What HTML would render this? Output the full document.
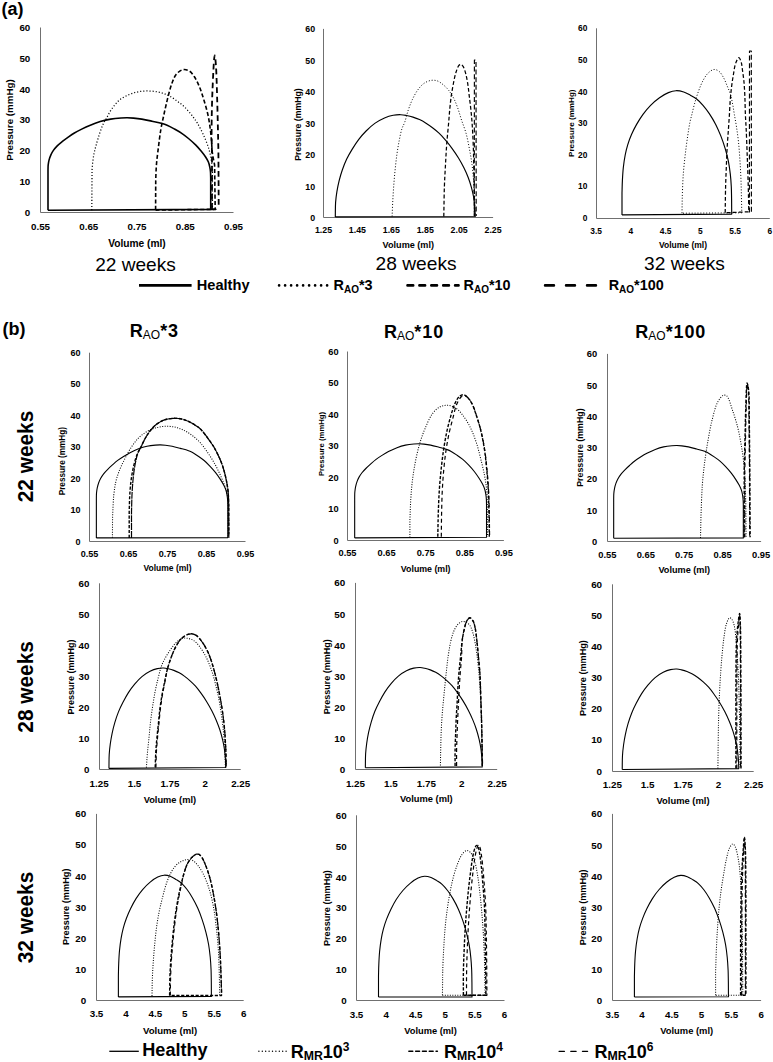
<!DOCTYPE html>
<html><head><meta charset="utf-8"><style>
html,body{margin:0;padding:0;background:#fff;}
svg{display:block;}
</style></head><body>
<svg width="773" height="1062" viewBox="0 0 773 1062">
<rect width="773" height="1062" fill="#fff"/>
<path d="M40.50 27.50V212.50H233.50" fill="none" stroke="#707070" stroke-width="1"/>
<text x="30.30" y="215.70" font-size="9.77" font-weight="bold" text-anchor="end" font-family='"Liberation Sans", sans-serif' >0</text>
<text x="30.30" y="184.91" font-size="9.77" font-weight="bold" text-anchor="end" font-family='"Liberation Sans", sans-serif' >10</text>
<text x="30.30" y="154.13" font-size="9.77" font-weight="bold" text-anchor="end" font-family='"Liberation Sans", sans-serif' >20</text>
<text x="30.30" y="123.35" font-size="9.77" font-weight="bold" text-anchor="end" font-family='"Liberation Sans", sans-serif' >30</text>
<text x="30.30" y="92.56" font-size="9.77" font-weight="bold" text-anchor="end" font-family='"Liberation Sans", sans-serif' >40</text>
<text x="30.30" y="61.78" font-size="9.77" font-weight="bold" text-anchor="end" font-family='"Liberation Sans", sans-serif' >50</text>
<text x="30.30" y="31.00" font-size="9.77" font-weight="bold" text-anchor="end" font-family='"Liberation Sans", sans-serif' >60</text>
<text x="40.50" y="229.80" font-size="9.77" font-weight="bold" text-anchor="middle" font-family='"Liberation Sans", sans-serif' >0.55</text>
<text x="88.75" y="229.80" font-size="9.77" font-weight="bold" text-anchor="middle" font-family='"Liberation Sans", sans-serif' >0.65</text>
<text x="137.00" y="229.80" font-size="9.77" font-weight="bold" text-anchor="middle" font-family='"Liberation Sans", sans-serif' >0.75</text>
<text x="185.25" y="229.80" font-size="9.77" font-weight="bold" text-anchor="middle" font-family='"Liberation Sans", sans-serif' >0.85</text>
<text x="233.50" y="229.80" font-size="9.77" font-weight="bold" text-anchor="middle" font-family='"Liberation Sans", sans-serif' >0.95</text>
<text x="137.00" y="246.60" font-size="10.2" font-weight="bold" text-anchor="middle" font-family='"Liberation Sans", sans-serif' >Volume (ml)</text>
<text x="0" y="0" font-size="9.8" font-weight="bold" text-anchor="middle" font-family='"Liberation Sans", sans-serif' transform="translate(13.20,120.00) rotate(-90)">Pressure (mmHg)</text>
<path d="M323.50 28.90V217.50H493.10" fill="none" stroke="#707070" stroke-width="1"/>
<text x="315.10" y="221.06" font-size="8.82" font-weight="bold" text-anchor="end" font-family='"Liberation Sans", sans-serif' >0</text>
<text x="315.10" y="189.56" font-size="8.82" font-weight="bold" text-anchor="end" font-family='"Liberation Sans", sans-serif' >10</text>
<text x="315.10" y="158.06" font-size="8.82" font-weight="bold" text-anchor="end" font-family='"Liberation Sans", sans-serif' >20</text>
<text x="315.10" y="126.56" font-size="8.82" font-weight="bold" text-anchor="end" font-family='"Liberation Sans", sans-serif' >30</text>
<text x="315.10" y="95.06" font-size="8.82" font-weight="bold" text-anchor="end" font-family='"Liberation Sans", sans-serif' >40</text>
<text x="315.10" y="63.56" font-size="8.82" font-weight="bold" text-anchor="end" font-family='"Liberation Sans", sans-serif' >50</text>
<text x="315.10" y="32.06" font-size="8.82" font-weight="bold" text-anchor="end" font-family='"Liberation Sans", sans-serif' >60</text>
<text x="323.50" y="233.40" font-size="8.82" font-weight="bold" text-anchor="middle" font-family='"Liberation Sans", sans-serif' >1.25</text>
<text x="357.42" y="233.40" font-size="8.82" font-weight="bold" text-anchor="middle" font-family='"Liberation Sans", sans-serif' >1.45</text>
<text x="391.34" y="233.40" font-size="8.82" font-weight="bold" text-anchor="middle" font-family='"Liberation Sans", sans-serif' >1.65</text>
<text x="425.26" y="233.40" font-size="8.82" font-weight="bold" text-anchor="middle" font-family='"Liberation Sans", sans-serif' >1.85</text>
<text x="459.18" y="233.40" font-size="8.82" font-weight="bold" text-anchor="middle" font-family='"Liberation Sans", sans-serif' >2.05</text>
<text x="493.10" y="233.40" font-size="8.82" font-weight="bold" text-anchor="middle" font-family='"Liberation Sans", sans-serif' >2.25</text>
<text x="408.30" y="248.10" font-size="9.1" font-weight="bold" text-anchor="middle" font-family='"Liberation Sans", sans-serif' >Volume (ml)</text>
<text x="0" y="0" font-size="8.7" font-weight="bold" text-anchor="middle" font-family='"Liberation Sans", sans-serif' transform="translate(300.50,124.60) rotate(-90)">Pressure (mmHg)</text>
<path d="M596.50 28.30V218.50H769.80" fill="none" stroke="#707070" stroke-width="1"/>
<text x="587.30" y="221.01" font-size="8.4" font-weight="bold" text-anchor="end" font-family='"Liberation Sans", sans-serif' >0</text>
<text x="587.30" y="189.39" font-size="8.4" font-weight="bold" text-anchor="end" font-family='"Liberation Sans", sans-serif' >10</text>
<text x="587.30" y="157.77" font-size="8.4" font-weight="bold" text-anchor="end" font-family='"Liberation Sans", sans-serif' >20</text>
<text x="587.30" y="126.16" font-size="8.4" font-weight="bold" text-anchor="end" font-family='"Liberation Sans", sans-serif' >30</text>
<text x="587.30" y="94.54" font-size="8.4" font-weight="bold" text-anchor="end" font-family='"Liberation Sans", sans-serif' >40</text>
<text x="587.30" y="62.92" font-size="8.4" font-weight="bold" text-anchor="end" font-family='"Liberation Sans", sans-serif' >50</text>
<text x="587.30" y="31.31" font-size="8.4" font-weight="bold" text-anchor="end" font-family='"Liberation Sans", sans-serif' >60</text>
<text x="596.20" y="233.70" font-size="8.4" font-weight="bold" text-anchor="middle" font-family='"Liberation Sans", sans-serif' >3.5</text>
<text x="630.92" y="233.70" font-size="8.4" font-weight="bold" text-anchor="middle" font-family='"Liberation Sans", sans-serif' >4</text>
<text x="665.64" y="233.70" font-size="8.4" font-weight="bold" text-anchor="middle" font-family='"Liberation Sans", sans-serif' >4.5</text>
<text x="700.36" y="233.70" font-size="8.4" font-weight="bold" text-anchor="middle" font-family='"Liberation Sans", sans-serif' >5</text>
<text x="735.08" y="233.70" font-size="8.4" font-weight="bold" text-anchor="middle" font-family='"Liberation Sans", sans-serif' >5.5</text>
<text x="769.80" y="233.70" font-size="8.4" font-weight="bold" text-anchor="middle" font-family='"Liberation Sans", sans-serif' >6</text>
<text x="683.00" y="247.90" font-size="8.5" font-weight="bold" text-anchor="middle" font-family='"Liberation Sans", sans-serif' >Volume (ml)</text>
<text x="0" y="0" font-size="8.1" font-weight="bold" text-anchor="middle" font-family='"Liberation Sans", sans-serif' transform="translate(573.80,123.20) rotate(-90)">Pressure (mmHg)</text>
<path d="M89.50 352.70V541.50H245.50" fill="none" stroke="#707070" stroke-width="1"/>
<text x="80.50" y="544.53" font-size="9.03" font-weight="bold" text-anchor="end" font-family='"Liberation Sans", sans-serif' >0</text>
<text x="80.50" y="513.10" font-size="9.03" font-weight="bold" text-anchor="end" font-family='"Liberation Sans", sans-serif' >10</text>
<text x="80.50" y="481.67" font-size="9.03" font-weight="bold" text-anchor="end" font-family='"Liberation Sans", sans-serif' >20</text>
<text x="80.50" y="450.23" font-size="9.03" font-weight="bold" text-anchor="end" font-family='"Liberation Sans", sans-serif' >30</text>
<text x="80.50" y="418.80" font-size="9.03" font-weight="bold" text-anchor="end" font-family='"Liberation Sans", sans-serif' >40</text>
<text x="80.50" y="387.37" font-size="9.03" font-weight="bold" text-anchor="end" font-family='"Liberation Sans", sans-serif' >50</text>
<text x="80.50" y="355.93" font-size="9.03" font-weight="bold" text-anchor="end" font-family='"Liberation Sans", sans-serif' >60</text>
<text x="89.60" y="557.00" font-size="9.03" font-weight="bold" text-anchor="middle" font-family='"Liberation Sans", sans-serif' >0.55</text>
<text x="128.57" y="557.00" font-size="9.03" font-weight="bold" text-anchor="middle" font-family='"Liberation Sans", sans-serif' >0.65</text>
<text x="167.55" y="557.00" font-size="9.03" font-weight="bold" text-anchor="middle" font-family='"Liberation Sans", sans-serif' >0.75</text>
<text x="206.53" y="557.00" font-size="9.03" font-weight="bold" text-anchor="middle" font-family='"Liberation Sans", sans-serif' >0.85</text>
<text x="245.50" y="557.00" font-size="9.03" font-weight="bold" text-anchor="middle" font-family='"Liberation Sans", sans-serif' >0.95</text>
<text x="167.55" y="571.30" font-size="8.5" font-weight="bold" text-anchor="middle" font-family='"Liberation Sans", sans-serif' >Volume (ml)</text>
<text x="0" y="0" font-size="8.2" font-weight="bold" text-anchor="middle" font-family='"Liberation Sans", sans-serif' transform="translate(65.40,461.20) rotate(-90)">Pressure (mmHg)</text>
<path d="M347.50 351.50V540.50H503.90" fill="none" stroke="#707070" stroke-width="1"/>
<text x="338.60" y="543.61" font-size="9.24" font-weight="bold" text-anchor="end" font-family='"Liberation Sans", sans-serif' >0</text>
<text x="338.60" y="512.14" font-size="9.24" font-weight="bold" text-anchor="end" font-family='"Liberation Sans", sans-serif' >10</text>
<text x="338.60" y="480.67" font-size="9.24" font-weight="bold" text-anchor="end" font-family='"Liberation Sans", sans-serif' >20</text>
<text x="338.60" y="449.21" font-size="9.24" font-weight="bold" text-anchor="end" font-family='"Liberation Sans", sans-serif' >30</text>
<text x="338.60" y="417.74" font-size="9.24" font-weight="bold" text-anchor="end" font-family='"Liberation Sans", sans-serif' >40</text>
<text x="338.60" y="386.27" font-size="9.24" font-weight="bold" text-anchor="end" font-family='"Liberation Sans", sans-serif' >50</text>
<text x="338.60" y="354.81" font-size="9.24" font-weight="bold" text-anchor="end" font-family='"Liberation Sans", sans-serif' >60</text>
<text x="347.50" y="556.30" font-size="9.24" font-weight="bold" text-anchor="middle" font-family='"Liberation Sans", sans-serif' >0.55</text>
<text x="386.60" y="556.30" font-size="9.24" font-weight="bold" text-anchor="middle" font-family='"Liberation Sans", sans-serif' >0.65</text>
<text x="425.70" y="556.30" font-size="9.24" font-weight="bold" text-anchor="middle" font-family='"Liberation Sans", sans-serif' >0.75</text>
<text x="464.80" y="556.30" font-size="9.24" font-weight="bold" text-anchor="middle" font-family='"Liberation Sans", sans-serif' >0.85</text>
<text x="503.90" y="556.30" font-size="9.24" font-weight="bold" text-anchor="middle" font-family='"Liberation Sans", sans-serif' >0.95</text>
<text x="425.70" y="572.30" font-size="8.8" font-weight="bold" text-anchor="middle" font-family='"Liberation Sans", sans-serif' >Volume (ml)</text>
<text x="0" y="0" font-size="7.7" font-weight="bold" text-anchor="middle" font-family='"Liberation Sans", sans-serif' transform="translate(324.10,444.00) rotate(-90)">Pressure (mmHg)</text>
<path d="M607.50 353.90V541.50H761.10" fill="none" stroke="#707070" stroke-width="1"/>
<text x="597.20" y="544.75" font-size="9.35" font-weight="bold" text-anchor="end" font-family='"Liberation Sans", sans-serif' >0</text>
<text x="597.20" y="513.50" font-size="9.35" font-weight="bold" text-anchor="end" font-family='"Liberation Sans", sans-serif' >10</text>
<text x="597.20" y="482.25" font-size="9.35" font-weight="bold" text-anchor="end" font-family='"Liberation Sans", sans-serif' >20</text>
<text x="597.20" y="451.00" font-size="9.35" font-weight="bold" text-anchor="end" font-family='"Liberation Sans", sans-serif' >30</text>
<text x="597.20" y="419.75" font-size="9.35" font-weight="bold" text-anchor="end" font-family='"Liberation Sans", sans-serif' >40</text>
<text x="597.20" y="388.50" font-size="9.35" font-weight="bold" text-anchor="end" font-family='"Liberation Sans", sans-serif' >50</text>
<text x="597.20" y="357.25" font-size="9.35" font-weight="bold" text-anchor="end" font-family='"Liberation Sans", sans-serif' >60</text>
<text x="607.30" y="557.70" font-size="9.35" font-weight="bold" text-anchor="middle" font-family='"Liberation Sans", sans-serif' >0.55</text>
<text x="645.75" y="557.70" font-size="9.35" font-weight="bold" text-anchor="middle" font-family='"Liberation Sans", sans-serif' >0.65</text>
<text x="684.20" y="557.70" font-size="9.35" font-weight="bold" text-anchor="middle" font-family='"Liberation Sans", sans-serif' >0.75</text>
<text x="722.65" y="557.70" font-size="9.35" font-weight="bold" text-anchor="middle" font-family='"Liberation Sans", sans-serif' >0.85</text>
<text x="761.10" y="557.70" font-size="9.35" font-weight="bold" text-anchor="middle" font-family='"Liberation Sans", sans-serif' >0.95</text>
<text x="684.20" y="572.80" font-size="9.15" font-weight="bold" text-anchor="middle" font-family='"Liberation Sans", sans-serif' >Volume (ml)</text>
<text x="0" y="0" font-size="8.84" font-weight="bold" text-anchor="middle" font-family='"Liberation Sans", sans-serif' transform="translate(583.30,447.60) rotate(-90)">Presssure (mmHg)</text>
<path d="M99.50 583.30V769.50H240.70" fill="none" stroke="#707070" stroke-width="1"/>
<text x="89.40" y="773.40" font-size="9.77" font-weight="bold" text-anchor="end" font-family='"Liberation Sans", sans-serif' >0</text>
<text x="89.40" y="742.30" font-size="9.77" font-weight="bold" text-anchor="end" font-family='"Liberation Sans", sans-serif' >10</text>
<text x="89.40" y="711.20" font-size="9.77" font-weight="bold" text-anchor="end" font-family='"Liberation Sans", sans-serif' >20</text>
<text x="89.40" y="680.10" font-size="9.77" font-weight="bold" text-anchor="end" font-family='"Liberation Sans", sans-serif' >30</text>
<text x="89.40" y="649.00" font-size="9.77" font-weight="bold" text-anchor="end" font-family='"Liberation Sans", sans-serif' >40</text>
<text x="89.40" y="617.90" font-size="9.77" font-weight="bold" text-anchor="end" font-family='"Liberation Sans", sans-serif' >50</text>
<text x="89.40" y="586.80" font-size="9.77" font-weight="bold" text-anchor="end" font-family='"Liberation Sans", sans-serif' >60</text>
<text x="99.10" y="786.90" font-size="9.77" font-weight="bold" text-anchor="middle" font-family='"Liberation Sans", sans-serif' >1.25</text>
<text x="134.50" y="786.90" font-size="9.77" font-weight="bold" text-anchor="middle" font-family='"Liberation Sans", sans-serif' >1.5</text>
<text x="169.90" y="786.90" font-size="9.77" font-weight="bold" text-anchor="middle" font-family='"Liberation Sans", sans-serif' >1.75</text>
<text x="205.30" y="786.90" font-size="9.77" font-weight="bold" text-anchor="middle" font-family='"Liberation Sans", sans-serif' >2</text>
<text x="240.70" y="786.90" font-size="9.77" font-weight="bold" text-anchor="middle" font-family='"Liberation Sans", sans-serif' >2.25</text>
<text x="169.90" y="803.20" font-size="9.3" font-weight="bold" text-anchor="middle" font-family='"Liberation Sans", sans-serif' >Volume (ml)</text>
<text x="0" y="0" font-size="9.0" font-weight="bold" text-anchor="middle" font-family='"Liberation Sans", sans-serif' transform="translate(74.30,677.00) rotate(-90)">Pressure (mmHg)</text>
<path d="M355.50 582.90V769.50H497.20" fill="none" stroke="#707070" stroke-width="1"/>
<text x="345.20" y="772.83" font-size="9.87" font-weight="bold" text-anchor="end" font-family='"Liberation Sans", sans-serif' >0</text>
<text x="345.20" y="741.77" font-size="9.87" font-weight="bold" text-anchor="end" font-family='"Liberation Sans", sans-serif' >10</text>
<text x="345.20" y="710.70" font-size="9.87" font-weight="bold" text-anchor="end" font-family='"Liberation Sans", sans-serif' >20</text>
<text x="345.20" y="679.63" font-size="9.87" font-weight="bold" text-anchor="end" font-family='"Liberation Sans", sans-serif' >30</text>
<text x="345.20" y="648.57" font-size="9.87" font-weight="bold" text-anchor="end" font-family='"Liberation Sans", sans-serif' >40</text>
<text x="345.20" y="617.50" font-size="9.87" font-weight="bold" text-anchor="end" font-family='"Liberation Sans", sans-serif' >50</text>
<text x="345.20" y="586.43" font-size="9.87" font-weight="bold" text-anchor="end" font-family='"Liberation Sans", sans-serif' >60</text>
<text x="355.50" y="786.50" font-size="9.87" font-weight="bold" text-anchor="middle" font-family='"Liberation Sans", sans-serif' >1.25</text>
<text x="390.93" y="786.50" font-size="9.87" font-weight="bold" text-anchor="middle" font-family='"Liberation Sans", sans-serif' >1.5</text>
<text x="426.35" y="786.50" font-size="9.87" font-weight="bold" text-anchor="middle" font-family='"Liberation Sans", sans-serif' >1.75</text>
<text x="461.77" y="786.50" font-size="9.87" font-weight="bold" text-anchor="middle" font-family='"Liberation Sans", sans-serif' >2</text>
<text x="497.20" y="786.50" font-size="9.87" font-weight="bold" text-anchor="middle" font-family='"Liberation Sans", sans-serif' >2.25</text>
<text x="426.35" y="802.40" font-size="9.35" font-weight="bold" text-anchor="middle" font-family='"Liberation Sans", sans-serif' >Volume (ml)</text>
<text x="0" y="0" font-size="9.0" font-weight="bold" text-anchor="middle" font-family='"Liberation Sans", sans-serif' transform="translate(329.80,676.70) rotate(-90)">Pressure (mmHg)</text>
<path d="M612.50 584.30V771.50H753.70" fill="none" stroke="#707070" stroke-width="1"/>
<text x="602.10" y="774.53" font-size="9.87" font-weight="bold" text-anchor="end" font-family='"Liberation Sans", sans-serif' >0</text>
<text x="602.10" y="743.42" font-size="9.87" font-weight="bold" text-anchor="end" font-family='"Liberation Sans", sans-serif' >10</text>
<text x="602.10" y="712.30" font-size="9.87" font-weight="bold" text-anchor="end" font-family='"Liberation Sans", sans-serif' >20</text>
<text x="602.10" y="681.18" font-size="9.87" font-weight="bold" text-anchor="end" font-family='"Liberation Sans", sans-serif' >30</text>
<text x="602.10" y="650.07" font-size="9.87" font-weight="bold" text-anchor="end" font-family='"Liberation Sans", sans-serif' >40</text>
<text x="602.10" y="618.95" font-size="9.87" font-weight="bold" text-anchor="end" font-family='"Liberation Sans", sans-serif' >50</text>
<text x="602.10" y="587.83" font-size="9.87" font-weight="bold" text-anchor="end" font-family='"Liberation Sans", sans-serif' >60</text>
<text x="612.40" y="788.40" font-size="9.87" font-weight="bold" text-anchor="middle" font-family='"Liberation Sans", sans-serif' >1.25</text>
<text x="647.73" y="788.40" font-size="9.87" font-weight="bold" text-anchor="middle" font-family='"Liberation Sans", sans-serif' >1.5</text>
<text x="683.05" y="788.40" font-size="9.87" font-weight="bold" text-anchor="middle" font-family='"Liberation Sans", sans-serif' >1.75</text>
<text x="718.38" y="788.40" font-size="9.87" font-weight="bold" text-anchor="middle" font-family='"Liberation Sans", sans-serif' >2</text>
<text x="753.70" y="788.40" font-size="9.87" font-weight="bold" text-anchor="middle" font-family='"Liberation Sans", sans-serif' >2.25</text>
<text x="683.05" y="804.20" font-size="9.4" font-weight="bold" text-anchor="middle" font-family='"Liberation Sans", sans-serif' >Volume (ml)</text>
<text x="0" y="0" font-size="9.1" font-weight="bold" text-anchor="middle" font-family='"Liberation Sans", sans-serif' transform="translate(586.30,678.10) rotate(-90)">Pressure (mmHg)</text>
<path d="M96.50 813.90V1000.50H243.70" fill="none" stroke="#707070" stroke-width="1"/>
<text x="86.20" y="1003.72" font-size="9.82" font-weight="bold" text-anchor="end" font-family='"Liberation Sans", sans-serif' >0</text>
<text x="86.20" y="972.67" font-size="9.82" font-weight="bold" text-anchor="end" font-family='"Liberation Sans", sans-serif' >10</text>
<text x="86.20" y="941.62" font-size="9.82" font-weight="bold" text-anchor="end" font-family='"Liberation Sans", sans-serif' >20</text>
<text x="86.20" y="910.57" font-size="9.82" font-weight="bold" text-anchor="end" font-family='"Liberation Sans", sans-serif' >30</text>
<text x="86.20" y="879.52" font-size="9.82" font-weight="bold" text-anchor="end" font-family='"Liberation Sans", sans-serif' >40</text>
<text x="86.20" y="848.47" font-size="9.82" font-weight="bold" text-anchor="end" font-family='"Liberation Sans", sans-serif' >50</text>
<text x="86.20" y="817.42" font-size="9.82" font-weight="bold" text-anchor="end" font-family='"Liberation Sans", sans-serif' >60</text>
<text x="96.50" y="1017.20" font-size="9.82" font-weight="bold" text-anchor="middle" font-family='"Liberation Sans", sans-serif' >3.5</text>
<text x="125.94" y="1017.20" font-size="9.82" font-weight="bold" text-anchor="middle" font-family='"Liberation Sans", sans-serif' >4</text>
<text x="155.38" y="1017.20" font-size="9.82" font-weight="bold" text-anchor="middle" font-family='"Liberation Sans", sans-serif' >4.5</text>
<text x="184.82" y="1017.20" font-size="9.82" font-weight="bold" text-anchor="middle" font-family='"Liberation Sans", sans-serif' >5</text>
<text x="214.26" y="1017.20" font-size="9.82" font-weight="bold" text-anchor="middle" font-family='"Liberation Sans", sans-serif' >5.5</text>
<text x="243.70" y="1017.20" font-size="9.82" font-weight="bold" text-anchor="middle" font-family='"Liberation Sans", sans-serif' >6</text>
<text x="170.10" y="1033.80" font-size="9.6" font-weight="bold" text-anchor="middle" font-family='"Liberation Sans", sans-serif' >Volume (ml)</text>
<text x="0" y="0" font-size="9.2" font-weight="bold" text-anchor="middle" font-family='"Liberation Sans", sans-serif' transform="translate(69.40,906.80) rotate(-90)">Pressure (mmHg)</text>
<path d="M356.50 815.30V1000.50H504.50" fill="none" stroke="#707070" stroke-width="1"/>
<text x="346.60" y="1004.10" font-size="9.77" font-weight="bold" text-anchor="end" font-family='"Liberation Sans", sans-serif' >0</text>
<text x="346.60" y="973.21" font-size="9.77" font-weight="bold" text-anchor="end" font-family='"Liberation Sans", sans-serif' >10</text>
<text x="346.60" y="942.33" font-size="9.77" font-weight="bold" text-anchor="end" font-family='"Liberation Sans", sans-serif' >20</text>
<text x="346.60" y="911.45" font-size="9.77" font-weight="bold" text-anchor="end" font-family='"Liberation Sans", sans-serif' >30</text>
<text x="346.60" y="880.56" font-size="9.77" font-weight="bold" text-anchor="end" font-family='"Liberation Sans", sans-serif' >40</text>
<text x="346.60" y="849.68" font-size="9.77" font-weight="bold" text-anchor="end" font-family='"Liberation Sans", sans-serif' >50</text>
<text x="346.60" y="818.80" font-size="9.77" font-weight="bold" text-anchor="end" font-family='"Liberation Sans", sans-serif' >60</text>
<text x="356.50" y="1017.70" font-size="9.77" font-weight="bold" text-anchor="middle" font-family='"Liberation Sans", sans-serif' >3.5</text>
<text x="386.10" y="1017.70" font-size="9.77" font-weight="bold" text-anchor="middle" font-family='"Liberation Sans", sans-serif' >4</text>
<text x="415.70" y="1017.70" font-size="9.77" font-weight="bold" text-anchor="middle" font-family='"Liberation Sans", sans-serif' >4.5</text>
<text x="445.30" y="1017.70" font-size="9.77" font-weight="bold" text-anchor="middle" font-family='"Liberation Sans", sans-serif' >5</text>
<text x="474.90" y="1017.70" font-size="9.77" font-weight="bold" text-anchor="middle" font-family='"Liberation Sans", sans-serif' >5.5</text>
<text x="504.50" y="1017.70" font-size="9.77" font-weight="bold" text-anchor="middle" font-family='"Liberation Sans", sans-serif' >6</text>
<text x="430.50" y="1033.90" font-size="9.3" font-weight="bold" text-anchor="middle" font-family='"Liberation Sans", sans-serif' >Volume (ml)</text>
<text x="0" y="0" font-size="9.1" font-weight="bold" text-anchor="middle" font-family='"Liberation Sans", sans-serif' transform="translate(330.30,908.10) rotate(-90)">Pressure (mmHg)</text>
<path d="M612.50 813.90V1000.50H761.10" fill="none" stroke="#707070" stroke-width="1"/>
<text x="602.20" y="1004.30" font-size="9.77" font-weight="bold" text-anchor="end" font-family='"Liberation Sans", sans-serif' >0</text>
<text x="602.20" y="973.15" font-size="9.77" font-weight="bold" text-anchor="end" font-family='"Liberation Sans", sans-serif' >10</text>
<text x="602.20" y="942.00" font-size="9.77" font-weight="bold" text-anchor="end" font-family='"Liberation Sans", sans-serif' >20</text>
<text x="602.20" y="910.85" font-size="9.77" font-weight="bold" text-anchor="end" font-family='"Liberation Sans", sans-serif' >30</text>
<text x="602.20" y="879.70" font-size="9.77" font-weight="bold" text-anchor="end" font-family='"Liberation Sans", sans-serif' >40</text>
<text x="602.20" y="848.55" font-size="9.77" font-weight="bold" text-anchor="end" font-family='"Liberation Sans", sans-serif' >50</text>
<text x="602.20" y="817.40" font-size="9.77" font-weight="bold" text-anchor="end" font-family='"Liberation Sans", sans-serif' >60</text>
<text x="612.30" y="1018.00" font-size="9.77" font-weight="bold" text-anchor="middle" font-family='"Liberation Sans", sans-serif' >3.5</text>
<text x="642.06" y="1018.00" font-size="9.77" font-weight="bold" text-anchor="middle" font-family='"Liberation Sans", sans-serif' >4</text>
<text x="671.82" y="1018.00" font-size="9.77" font-weight="bold" text-anchor="middle" font-family='"Liberation Sans", sans-serif' >4.5</text>
<text x="701.58" y="1018.00" font-size="9.77" font-weight="bold" text-anchor="middle" font-family='"Liberation Sans", sans-serif' >5</text>
<text x="731.34" y="1018.00" font-size="9.77" font-weight="bold" text-anchor="middle" font-family='"Liberation Sans", sans-serif' >5.5</text>
<text x="761.10" y="1018.00" font-size="9.77" font-weight="bold" text-anchor="middle" font-family='"Liberation Sans", sans-serif' >6</text>
<text x="686.70" y="1034.20" font-size="9.4" font-weight="bold" text-anchor="middle" font-family='"Liberation Sans", sans-serif' >Volume (ml)</text>
<text x="0" y="0" font-size="9.1" font-weight="bold" text-anchor="middle" font-family='"Liberation Sans", sans-serif' transform="translate(585.90,907.30) rotate(-90)">Pressure (mmHg)</text>
<text x="1.50" y="14.75" font-size="18" font-weight="bold" text-anchor="start" font-family='"Liberation Sans", sans-serif' >(a)</text>
<text x="2.40" y="334.70" font-size="18" font-weight="bold" text-anchor="start" font-family='"Liberation Sans", sans-serif' >(b)</text>
<text x="135.50" y="270.50" font-size="19" font-weight="normal" text-anchor="middle" font-family='"Liberation Sans", sans-serif' textLength="80.7" lengthAdjust="spacingAndGlyphs" >22 weeks</text>
<text x="416.10" y="270.30" font-size="19" font-weight="normal" text-anchor="middle" font-family='"Liberation Sans", sans-serif' textLength="81.0" lengthAdjust="spacingAndGlyphs" >28 weeks</text>
<text x="684.50" y="269.80" font-size="19" font-weight="normal" text-anchor="middle" font-family='"Liberation Sans", sans-serif' textLength="80.8" lengthAdjust="spacingAndGlyphs" >32 weeks</text>
<text x="0" y="0" font-size="21.5" font-weight="bold" text-anchor="middle" font-family='"Liberation Sans", sans-serif' textLength="91.5" lengthAdjust="spacingAndGlyphs" transform="translate(33.0,456.50) rotate(-90)">22 weeks</text>
<text x="0" y="0" font-size="21.5" font-weight="bold" text-anchor="middle" font-family='"Liberation Sans", sans-serif' textLength="91.5" lengthAdjust="spacingAndGlyphs" transform="translate(33.0,686.90) rotate(-90)">28 weeks</text>
<text x="0" y="0" font-size="21.5" font-weight="bold" text-anchor="middle" font-family='"Liberation Sans", sans-serif' textLength="91.5" lengthAdjust="spacingAndGlyphs" transform="translate(33.0,917.50) rotate(-90)">32 weeks</text>
<text x="129.80" y="337.40" font-size="18" font-weight="bold" font-family='"Liberation Sans", sans-serif'>R<tspan font-size="12" font-weight="normal" dy="2.0">AO</tspan><tspan dy="-2.0" letter-spacing="0.9">*3</tspan></text>
<text x="384.00" y="337.60" font-size="18" font-weight="bold" font-family='"Liberation Sans", sans-serif'>R<tspan font-size="12" font-weight="normal" dy="2.0">AO</tspan><tspan dy="-2.0" letter-spacing="0.9">*10</tspan></text>
<text x="635.30" y="337.60" font-size="18" font-weight="bold" font-family='"Liberation Sans", sans-serif'>R<tspan font-size="12" font-weight="normal" dy="2.0">AO</tspan><tspan dy="-2.0" letter-spacing="0.9">*100</tspan></text>
<line x1="139" y1="285.4" x2="191.6" y2="285.4" stroke="#000" stroke-width="2.7"/>
<text x="196.80" y="290.40" font-size="14.6" font-weight="bold" text-anchor="start" font-family='"Liberation Sans", sans-serif' textLength="52.7" lengthAdjust="spacingAndGlyphs" >Healthy</text>
<line x1="279.1" y1="285.4" x2="327.3" y2="285.4" stroke="#000" stroke-width="2.7" stroke-dasharray="0 6.0" stroke-linecap="round"/>
<text x="333.50" y="290.4" font-size="14.4" font-weight="bold" font-family='"Liberation Sans", sans-serif'>R<tspan font-size="10" dy="2.6">AO</tspan><tspan dy="-2.6">*3</tspan></text>
<line x1="407.55" y1="285.4" x2="458.5" y2="285.4" stroke="#000" stroke-width="2.7" stroke-dasharray="5.6 6.3" stroke-linecap="round"/>
<text x="463.60" y="290.4" font-size="14.4" font-weight="bold" font-family='"Liberation Sans", sans-serif'>R<tspan font-size="10" dy="2.6">AO</tspan><tspan dy="-2.6">*10</tspan></text>
<line x1="545.1" y1="285.4" x2="596" y2="285.4" stroke="#000" stroke-width="2.6" stroke-dasharray="8.8 12.2" stroke-linecap="round"/>
<text x="608.70" y="290.4" font-size="14.4" font-weight="bold" font-family='"Liberation Sans", sans-serif'>R<tspan font-size="10" dy="2.6">AO</tspan><tspan dy="-2.6">*100</tspan></text>
<line x1="109.3" y1="1051.3" x2="138.8" y2="1051.3" stroke="#000" stroke-width="1.3"/>
<text x="142.30" y="1056.30" font-size="18" font-weight="bold" text-anchor="start" font-family='"Liberation Sans", sans-serif' textLength="65.4" lengthAdjust="spacingAndGlyphs" >Healthy</text>
<line x1="258.9" y1="1051.3" x2="286.5" y2="1051.3" stroke="#000" stroke-width="1.4" stroke-dasharray="0 3.4" stroke-linecap="round"/>
<text x="290.70" y="1058.2" font-size="18" font-weight="bold" font-family='"Liberation Sans", sans-serif'>R<tspan font-size="12.3" dy="1.5">MR</tspan><tspan dy="-1.5">10</tspan><tspan font-size="12" dy="-7">3</tspan></text>
<line x1="408.85" y1="1051.3" x2="437.4" y2="1051.3" stroke="#000" stroke-width="1.5" stroke-dasharray="3.9 2.9" stroke-linecap="round"/>
<text x="444.00" y="1058.2" font-size="18" font-weight="bold" font-family='"Liberation Sans", sans-serif'>R<tspan font-size="12.3" dy="1.5">MR</tspan><tspan dy="-1.5">10</tspan><tspan font-size="12" dy="-7">4</tspan></text>
<line x1="559.05" y1="1051.3" x2="587.6" y2="1051.3" stroke="#000" stroke-width="1.3" stroke-dasharray="5.4 6.3" stroke-linecap="round"/>
<text x="594.50" y="1058.2" font-size="18" font-weight="bold" font-family='"Liberation Sans", sans-serif'>R<tspan font-size="12.3" dy="1.5">MR</tspan><tspan dy="-1.5">10</tspan><tspan font-size="12" dy="-7">6</tspan></text>
<path d="M48.00 210.30L48.00 170.00C48.07 168.30 48.02 166.59 48.20 164.90C48.38 163.22 48.66 161.56 49.10 159.90C49.55 158.19 50.17 156.41 50.90 154.80C51.61 153.25 52.42 151.82 53.40 150.40C54.43 148.91 55.63 147.49 57.00 146.10C58.50 144.58 60.32 143.13 62.10 141.70C63.95 140.22 65.90 138.82 67.90 137.40C69.99 135.92 72.13 134.37 74.40 133.00C76.73 131.60 79.19 130.35 81.70 129.10C84.29 127.81 86.82 126.58 89.70 125.40C92.94 124.07 96.67 122.66 100.20 121.60C103.67 120.56 107.19 119.70 110.70 119.10C114.16 118.51 118.08 118.21 121.10 118.00C123.43 117.84 125.23 117.78 127.30 117.80C129.37 117.82 131.29 117.91 133.50 118.10C136.07 118.32 138.89 118.63 141.80 119.10C145.06 119.63 148.70 120.46 152.10 121.20C155.46 121.93 159.36 122.69 162.10 123.50C164.07 124.08 165.31 124.53 167.10 125.30C169.29 126.24 171.84 127.62 174.20 128.90C176.61 130.21 179.06 131.53 181.40 133.10C183.83 134.72 186.17 136.57 188.50 138.50C190.91 140.50 193.42 142.71 195.60 144.90C197.67 146.98 199.57 149.19 201.30 151.30C202.88 153.22 204.37 155.12 205.60 157.00C206.70 158.68 207.69 160.29 208.40 162.00C209.07 163.63 209.45 165.33 209.80 167.00C210.14 168.63 210.35 170.17 210.50 171.90C210.67 173.82 210.63 175.97 210.70 178.00L210.70 209.40L215.80 209.40L48.00 210.30" fill="none" stroke="#000" stroke-width="1.6" stroke-linejoin="round"/>
<path d="M91.80 210.20L92.00 178.00C92.07 174.53 91.93 171.28 92.20 167.60C92.51 163.41 93.15 158.24 93.90 154.20C94.53 150.80 95.31 148.16 96.20 144.90C97.21 141.23 98.47 136.93 99.70 133.30C100.81 130.01 101.94 126.69 103.20 124.00C104.24 121.79 105.28 120.35 106.50 118.20C108.02 115.53 109.56 112.11 111.60 109.20C113.80 106.07 116.36 102.59 119.40 100.10C122.43 97.62 126.38 95.73 129.80 94.30C132.84 93.03 135.66 92.25 138.80 91.70C142.11 91.12 145.75 90.90 149.20 91.00C152.65 91.10 156.22 91.51 159.50 92.30C162.67 93.07 165.65 94.14 168.60 95.60C171.70 97.14 174.77 99.32 177.60 101.40C180.36 103.43 182.91 105.44 185.40 107.90C188.09 110.56 190.95 114.10 193.10 116.90C194.84 119.17 195.96 120.69 197.50 123.30C199.69 127.01 202.51 132.68 204.50 137.30C206.36 141.61 208.02 145.89 209.20 150.10C210.30 154.02 210.96 157.93 211.50 161.70C212.00 165.22 212.10 168.57 212.40 172.00L212.40 209.50" fill="none" stroke="#000" stroke-width="1.25" stroke-dasharray="1.1 2.0" stroke-linejoin="round"/>
<path d="M155.60 209.90L155.70 185.00C155.73 182.67 155.71 180.73 155.80 178.00C155.92 174.13 156.10 168.91 156.50 164.00C156.95 158.51 157.77 152.40 158.50 146.60C159.23 140.77 159.97 134.50 160.90 129.10C161.71 124.40 162.71 120.14 163.60 116.00C164.41 112.25 165.12 109.04 166.00 105.30C166.97 101.17 168.07 96.37 169.20 92.30C170.21 88.65 171.13 85.15 172.40 82.00C173.54 79.17 174.50 76.28 176.30 74.20C178.01 72.22 180.53 70.17 182.80 69.70C184.88 69.27 187.42 69.91 189.30 71.00C191.33 72.17 192.83 74.47 194.40 76.80C196.33 79.66 198.06 83.50 199.60 87.20C201.26 91.19 202.55 95.54 203.90 100.00C205.36 104.81 206.92 110.13 208.00 115.10C209.03 119.83 209.70 124.64 210.30 129.10C210.84 133.14 211.17 136.82 211.50 140.70C211.83 144.59 211.81 148.44 212.30 152.40C212.82 156.54 213.83 160.80 214.60 165.00L215.20 209.30L155.60 210.10" fill="none" stroke="#000" stroke-width="1.6" stroke-dasharray="4.1 2.3" stroke-linejoin="round"/>
<path d="M212.00 209.00L212.00 155.00C211.87 146.67 211.57 139.31 211.60 130.00C211.64 118.23 211.95 102.85 212.50 90.00C213.01 78.02 213.95 55.32 214.70 55.30C215.10 55.29 215.56 60.75 215.90 65.00C216.55 73.04 216.81 87.29 217.20 100.00C217.66 115.18 218.00 133.33 218.40 150.00L218.70 207.00" fill="none" stroke="#000" stroke-width="1.8" stroke-dasharray="5.7 3.6" stroke-linejoin="round"/>
<path d="M335.30 216.90C335.40 212.07 335.29 206.87 335.60 202.40C335.87 198.53 336.32 195.19 336.90 191.60C337.48 187.99 338.21 184.38 339.10 180.80C340.00 177.18 341.05 173.58 342.30 170.00C343.58 166.34 345.04 162.58 346.70 159.10C348.32 155.72 350.15 152.60 352.10 149.40C354.11 146.10 356.25 142.69 358.60 139.60C360.92 136.56 363.41 133.69 366.10 131.00C368.81 128.29 371.70 125.58 374.80 123.40C377.84 121.26 381.28 119.38 384.50 118.00C387.41 116.75 390.37 115.84 393.20 115.30C395.79 114.80 398.45 114.63 400.80 114.70C402.84 114.76 404.55 115.12 406.50 115.50C408.61 115.91 410.85 116.43 413.00 117.10C415.19 117.79 417.37 118.61 419.50 119.60C421.70 120.63 423.87 121.87 426.00 123.20C428.20 124.57 430.37 126.08 432.50 127.70C434.70 129.37 436.90 131.10 439.00 133.10C441.24 135.24 443.37 137.72 445.50 140.20C447.71 142.78 449.89 145.43 452.00 148.30C454.23 151.34 456.50 154.71 458.50 158.00C460.46 161.22 462.27 164.51 463.90 167.80C465.49 171.01 466.94 174.23 468.20 177.50C469.44 180.73 470.49 184.02 471.40 187.30C472.29 190.52 473.02 193.66 473.60 197.00C474.20 200.49 474.47 204.20 474.90 207.80L475.20 216.50L335.30 216.90" fill="none" stroke="#000" stroke-width="1.15" stroke-linejoin="round"/>
<path d="M392.10 216.50C392.30 211.80 392.45 207.26 392.70 202.40C392.97 197.19 393.30 191.60 393.70 186.20C394.10 180.80 394.55 175.40 395.10 170.00C395.65 164.57 396.27 158.82 397.00 153.70C397.66 149.11 398.36 144.93 399.20 140.70C400.00 136.63 400.82 132.13 401.90 128.80C402.73 126.26 403.79 124.85 404.70 122.30C405.93 118.86 406.96 113.82 408.30 109.90C409.55 106.25 410.83 102.82 412.40 99.50C413.94 96.26 415.61 92.94 417.60 90.20C419.44 87.66 421.46 85.15 423.80 83.50C425.97 81.97 428.63 80.79 431.00 80.40C433.13 80.05 435.29 80.21 437.30 80.90C439.48 81.65 441.61 83.44 443.50 85.00C445.37 86.54 447.00 88.16 448.60 90.20C450.46 92.56 452.27 95.51 453.80 98.50C455.43 101.68 456.73 105.27 458.00 108.80C459.30 112.43 460.23 116.13 461.50 120.00C462.88 124.20 464.72 128.53 466.00 133.10C467.35 137.94 468.31 143.14 469.30 148.30C470.32 153.60 471.28 159.08 472.00 164.50C472.72 169.91 473.15 175.37 473.60 180.80C474.05 186.20 474.33 191.60 474.70 197.00L475.20 216.30" fill="none" stroke="#000" stroke-width="1.0" stroke-dasharray="1.0 1.9" stroke-linejoin="round"/>
<path d="M443.80 216.50C444.00 206.40 444.07 195.46 444.40 186.20C444.68 178.36 445.10 171.72 445.50 164.50C445.90 157.29 446.27 149.92 446.80 142.90C447.31 136.20 448.09 129.22 448.60 123.30C449.03 118.41 449.27 114.37 449.70 109.90C450.13 105.41 450.58 100.80 451.20 96.40C451.79 92.17 452.50 88.04 453.30 84.00C454.07 80.11 454.82 75.94 455.90 72.60C456.79 69.85 457.78 66.47 459.00 65.30C459.65 64.68 460.45 64.37 461.10 64.50C461.82 64.65 462.49 65.46 463.10 66.40C464.12 67.96 464.96 70.95 465.70 73.60C466.57 76.72 467.21 80.37 467.80 84.00C468.44 87.94 468.79 92.18 469.30 96.40C469.83 100.80 470.43 105.41 470.90 109.90C471.37 114.37 471.74 118.23 472.10 123.30C472.57 129.91 472.99 137.93 473.30 146.20C473.66 155.97 473.77 167.53 474.00 178.20L474.50 216.00" fill="none" stroke="#000" stroke-width="1.25" stroke-dasharray="3.8 2.2" stroke-linejoin="round"/>
<path d="M474.30 216.00L474.40 60.00L476.00 60.00L476.20 216.00" fill="none" stroke="#000" stroke-width="1.15" stroke-dasharray="5.0 2.6" stroke-linejoin="round"/>
<path d="M622.00 214.90L622.00 193.10C622.13 188.87 622.18 184.63 622.40 180.40C622.62 176.16 622.84 171.92 623.30 167.70C623.77 163.46 624.42 158.98 625.20 155.00C625.91 151.40 626.66 148.17 627.70 144.80C628.76 141.37 630.04 137.96 631.50 134.60C633.00 131.16 634.71 127.74 636.60 124.40C638.53 120.98 640.66 117.49 643.00 114.30C645.33 111.13 647.84 108.07 650.60 105.30C653.35 102.54 656.43 99.86 659.50 97.70C662.38 95.68 665.47 93.78 668.40 92.60C670.96 91.57 673.45 90.80 676.00 90.70C678.55 90.60 681.28 91.23 683.70 92.00C686.04 92.75 688.15 94.03 690.30 95.20C692.45 96.37 694.58 97.43 696.60 99.00C698.83 100.73 700.96 102.97 703.00 105.30C705.20 107.80 707.27 110.59 709.30 113.60C711.52 116.91 713.78 120.69 715.70 124.40C717.62 128.12 719.24 131.94 720.80 135.90C722.41 140.00 723.93 144.34 725.20 148.60C726.46 152.81 727.55 157.05 728.40 161.30C729.24 165.51 729.82 169.76 730.30 174.00C730.78 178.22 731.08 182.46 731.30 186.70C731.52 190.96 731.50 195.23 731.60 199.50L731.70 214.10L622.00 214.90" fill="none" stroke="#000" stroke-width="1.15" stroke-linejoin="round"/>
<path d="M682.00 213.20L682.20 200.00C682.27 197.70 682.29 195.97 682.40 193.10C682.58 188.32 682.83 180.35 683.30 174.00C683.77 167.65 684.47 161.34 685.20 155.00C685.93 148.64 686.83 141.76 687.70 135.90C688.44 130.89 689.20 125.88 690.00 122.00C690.58 119.17 691.14 117.37 691.80 114.70C692.61 111.45 693.47 107.56 694.50 103.90C695.59 100.04 696.81 95.93 698.20 92.10C699.55 88.36 700.95 84.49 702.70 81.20C704.29 78.21 706.01 75.11 708.10 73.10C709.86 71.41 712.07 69.70 714.00 69.50C715.69 69.33 717.53 70.18 719.00 71.30C720.78 72.65 722.19 75.29 723.50 77.60C724.91 80.09 725.96 83.06 727.10 85.80C728.22 88.50 729.41 91.02 730.30 93.90C731.27 97.02 731.92 100.49 732.60 103.90C733.30 107.42 733.77 110.98 734.40 114.70C735.07 118.67 735.85 122.69 736.50 127.00C737.22 131.75 737.94 136.68 738.50 142.00C739.13 148.02 739.58 154.88 740.00 161.30C740.41 167.68 740.75 173.99 741.00 180.40C741.25 186.89 741.33 193.47 741.50 200.00L741.80 212.80L682.00 213.20" fill="none" stroke="#000" stroke-width="1.0" stroke-dasharray="1.0 1.9" stroke-linejoin="round"/>
<path d="M725.20 212.80C725.33 204.10 725.39 194.71 725.60 186.70C725.78 179.86 726.05 174.04 726.30 167.70C726.55 161.34 726.75 154.96 727.10 148.60C727.45 142.23 728.00 135.46 728.40 129.50C728.76 124.25 729.09 119.68 729.40 114.70C729.72 109.62 729.90 104.26 730.30 99.30C730.68 94.65 731.14 90.14 731.70 85.80C732.22 81.73 732.82 77.85 733.50 74.00C734.16 70.29 734.57 66.03 735.70 63.10C736.55 60.90 737.95 57.67 738.90 57.70C739.76 57.73 740.62 60.42 741.20 62.20C741.94 64.48 742.08 67.48 742.50 70.40C742.98 73.75 743.53 77.39 743.90 81.20C744.32 85.47 744.56 89.83 744.80 94.80C745.09 100.80 745.14 108.56 745.40 114.70C745.62 120.00 745.94 123.90 746.20 129.50C746.54 136.85 746.88 146.51 747.20 155.00C747.52 163.47 747.86 172.48 748.10 180.40C748.31 187.36 748.43 193.47 748.60 200.00L748.80 211.80L725.20 212.80" fill="none" stroke="#000" stroke-width="1.25" stroke-dasharray="3.8 2.2" stroke-linejoin="round"/>
<path d="M749.40 212.60L749.50 51.00L751.30 51.00L751.40 212.60" fill="none" stroke="#000" stroke-width="1.15" stroke-dasharray="5.0 2.6" stroke-linejoin="round"/>
<path d="M96.36 537.90L96.36 498.21C96.41 496.47 96.37 494.72 96.52 493.00C96.67 491.29 96.89 489.59 97.25 487.90C97.61 486.16 98.10 484.34 98.70 482.69C99.27 481.11 99.92 479.65 100.72 478.20C101.55 476.69 102.51 475.23 103.63 473.80C104.83 472.27 106.30 470.77 107.75 469.31C109.23 467.81 110.81 466.37 112.43 464.92C114.12 463.41 115.84 461.83 117.68 460.43C119.55 459.00 121.55 457.72 123.58 456.45C125.66 455.13 127.71 453.88 130.04 452.67C132.65 451.31 135.66 449.87 138.52 448.79C141.32 447.73 144.16 446.85 147.01 446.23C149.79 445.63 152.96 445.32 155.41 445.11C157.29 444.95 158.75 444.89 160.41 444.91C162.08 444.92 163.64 445.02 165.42 445.21C167.50 445.43 169.78 445.76 172.13 446.23C174.76 446.77 177.70 447.63 180.45 448.38C183.17 449.12 186.32 449.91 188.53 450.73C190.13 451.32 191.13 451.78 192.56 452.57C194.34 453.53 196.40 454.94 198.30 456.24C200.25 457.59 202.23 458.94 204.12 460.53C206.09 462.19 207.98 464.09 209.85 466.04C211.81 468.09 213.83 470.35 215.59 472.58C217.27 474.71 218.80 476.97 220.19 479.11C221.47 481.09 222.68 483.03 223.66 484.93C224.56 486.66 225.36 488.31 225.92 490.04C226.48 491.71 226.77 493.44 227.06 495.15C227.33 496.81 227.50 498.39 227.62 500.15C227.76 502.11 227.73 504.30 227.78 506.38L227.78 537.60L96.36 537.90" fill="none" stroke="#000" stroke-width="1.1" stroke-linejoin="round"/>
<path d="M354.68 537.90L354.68 497.16C354.73 495.43 354.69 493.68 354.84 491.95C354.99 490.23 355.21 488.54 355.57 486.84C355.94 485.10 356.43 483.28 357.03 481.63C357.60 480.05 358.25 478.59 359.05 477.13C359.89 475.62 360.85 474.16 361.97 472.73C363.18 471.19 364.65 469.70 366.10 468.24C367.59 466.73 369.18 465.29 370.80 463.84C372.49 462.33 374.22 460.75 376.07 459.34C377.95 457.92 379.95 456.63 381.99 455.36C384.08 454.04 386.13 452.79 388.47 451.57C391.08 450.22 394.10 448.77 396.98 447.69C399.78 446.63 402.63 445.75 405.49 445.13C408.28 444.53 411.46 444.22 413.92 444.01C415.80 443.85 417.27 443.79 418.94 443.80C420.61 443.82 422.17 443.92 423.96 444.11C426.05 444.33 428.34 444.65 430.69 445.13C433.33 445.67 436.28 446.53 439.04 447.28C441.76 448.03 444.93 448.81 447.14 449.63C448.75 450.23 449.75 450.69 451.19 451.47C452.97 452.44 455.04 453.84 456.95 455.15C458.91 456.50 460.89 457.86 462.78 459.44C464.76 461.11 466.66 463.00 468.53 464.96C470.50 467.01 472.53 469.28 474.29 471.51C475.97 473.64 477.51 475.90 478.91 478.05C480.19 480.02 481.40 481.97 482.39 483.87C483.29 485.61 484.09 487.25 484.66 488.99C485.21 490.66 485.51 492.39 485.79 494.10C486.07 495.77 486.24 497.34 486.36 499.11C486.50 501.07 486.47 503.26 486.52 505.34L486.52 537.30L354.68 537.90" fill="none" stroke="#000" stroke-width="1.1" stroke-linejoin="round"/>
<path d="M613.68 538.30L613.68 498.56C613.73 496.83 613.69 495.10 613.84 493.38C613.98 491.68 614.20 490.00 614.55 488.31C614.91 486.58 615.40 484.77 615.99 483.13C616.55 481.56 617.19 480.11 617.98 478.66C618.80 477.17 619.75 475.72 620.85 474.30C622.03 472.77 623.49 471.29 624.91 469.83C626.38 468.34 627.93 466.91 629.53 465.47C631.20 463.97 632.90 462.40 634.71 461.00C636.56 459.58 638.53 458.31 640.53 457.04C642.59 455.74 644.61 454.49 646.91 453.28C649.48 451.94 652.45 450.50 655.27 449.43C658.03 448.38 660.83 447.50 663.64 446.89C666.39 446.29 669.52 445.98 671.93 445.77C673.78 445.61 675.22 445.55 676.87 445.57C678.52 445.59 680.05 445.68 681.81 445.87C683.86 446.09 686.11 446.41 688.43 446.89C691.03 447.42 693.92 448.27 696.63 449.02C699.31 449.76 702.43 450.54 704.60 451.36C706.18 451.95 707.17 452.41 708.59 453.18C710.34 454.14 712.37 455.54 714.24 456.84C716.17 458.17 718.13 459.52 719.98 461.10C721.93 462.76 723.79 464.64 725.64 466.58C727.57 468.62 729.57 470.87 731.30 473.08C732.96 475.20 734.47 477.45 735.84 479.58C737.10 481.54 738.29 483.47 739.27 485.36C740.15 487.08 740.94 488.72 741.50 490.44C742.04 492.10 742.33 493.82 742.61 495.51C742.89 497.17 743.05 498.74 743.17 500.49C743.31 502.44 743.28 504.62 743.33 506.68L743.33 537.90L613.68 538.30" fill="none" stroke="#000" stroke-width="1.1" stroke-linejoin="round"/>
<path d="M108.95 768.40C109.04 763.80 108.94 758.90 109.20 754.60C109.43 750.81 109.80 747.48 110.29 743.93C110.78 740.37 111.38 736.81 112.12 733.27C112.88 729.70 113.75 726.15 114.80 722.61C115.86 719.01 117.08 715.29 118.47 711.85C119.81 708.52 121.34 705.44 122.98 702.27C124.65 699.02 126.43 695.66 128.41 692.59C130.33 689.61 132.41 686.78 134.67 684.10C136.92 681.45 139.32 678.77 141.93 676.60C144.45 674.51 147.32 672.63 150.03 671.27C152.45 670.05 154.92 669.14 157.29 668.60C159.45 668.12 161.68 667.94 163.64 668.01C165.34 668.07 166.77 668.43 168.40 668.80C170.16 669.20 172.04 669.72 173.82 670.38C175.66 671.06 177.48 671.87 179.25 672.85C181.10 673.87 182.90 675.10 184.68 676.40C186.52 677.76 188.33 679.25 190.10 680.85C191.95 682.50 193.79 684.21 195.53 686.18C197.42 688.30 199.19 690.74 200.96 693.19C202.81 695.74 204.63 698.36 206.39 701.18C208.26 704.20 210.15 707.53 211.81 710.76C213.45 713.95 214.96 717.19 216.32 720.44C217.65 723.61 218.86 726.79 219.91 730.01C220.95 733.21 221.83 736.46 222.58 739.69C223.33 742.87 223.94 745.98 224.42 749.27C224.92 752.71 225.14 756.37 225.50 759.93L225.76 767.50L108.95 768.40" fill="none" stroke="#000" stroke-width="1.1" stroke-linejoin="round"/>
<path d="M365.36 767.80C365.44 763.20 365.35 758.31 365.61 754.01C365.84 750.23 366.21 746.90 366.70 743.36C367.18 739.80 367.79 736.25 368.53 732.71C369.29 729.15 370.16 725.60 371.21 722.06C372.27 718.46 373.49 714.75 374.88 711.31C376.23 707.99 377.76 704.91 379.40 701.74C381.07 698.50 382.85 695.14 384.83 692.08C386.76 689.09 388.83 686.26 391.09 683.60C393.34 680.94 395.74 678.26 398.36 676.10C400.88 674.01 403.76 672.14 406.47 670.77C408.88 669.56 411.36 668.65 413.73 668.11C415.89 667.62 418.12 667.45 420.08 667.52C421.79 667.58 423.22 667.94 424.85 668.31C426.61 668.71 428.49 669.23 430.28 669.89C432.11 670.57 433.93 671.38 435.71 672.35C437.56 673.37 439.36 674.60 441.14 675.90C442.99 677.26 444.79 678.75 446.57 680.34C448.42 682.00 450.25 683.71 452.00 685.67C453.88 687.78 455.66 690.23 457.43 692.67C459.28 695.22 461.11 697.84 462.86 700.66C464.73 703.67 466.62 706.99 468.29 710.22C469.93 713.41 471.44 716.65 472.80 719.89C474.14 723.06 475.35 726.24 476.40 729.46C477.43 732.65 478.31 735.89 479.07 739.12C479.81 742.30 480.43 745.40 480.91 748.69C481.41 752.13 481.63 755.79 481.99 759.34L482.24 766.90L365.36 767.80" fill="none" stroke="#000" stroke-width="1.1" stroke-linejoin="round"/>
<path d="M622.23 769.50C622.31 764.90 622.22 759.99 622.48 755.69C622.71 751.90 623.08 748.57 623.56 745.02C624.05 741.46 624.65 737.89 625.40 734.35C626.15 730.78 627.02 727.23 628.06 723.68C629.12 720.08 630.34 716.36 631.73 712.92C633.07 709.59 634.60 706.51 636.23 703.33C637.90 700.09 639.67 696.72 641.64 693.65C643.57 690.67 645.64 687.83 647.89 685.16C650.14 682.50 652.53 679.82 655.14 677.65C657.65 675.56 660.52 673.68 663.22 672.32C665.63 671.10 668.10 670.19 670.47 669.65C672.62 669.16 674.85 668.99 676.80 669.06C678.50 669.12 679.93 669.48 681.55 669.85C683.31 670.25 685.18 670.76 686.97 671.43C688.80 672.11 690.61 672.92 692.38 673.90C694.23 674.91 696.03 676.15 697.80 677.45C699.64 678.81 701.44 680.31 703.21 681.90C705.06 683.56 706.89 685.27 708.63 687.23C710.51 689.35 712.27 691.80 714.04 694.25C715.89 696.80 717.71 699.42 719.46 702.25C721.33 705.26 723.21 708.59 724.87 711.83C726.51 715.02 728.01 718.26 729.37 721.51C730.70 724.69 731.91 727.87 732.95 731.09C733.99 734.29 734.87 737.54 735.62 740.77C736.36 743.96 736.97 747.06 737.45 750.35C737.96 753.80 738.18 757.47 738.54 761.02L738.79 768.60L622.23 769.50" fill="none" stroke="#000" stroke-width="1.1" stroke-linejoin="round"/>
<path d="M118.38 996.90L118.38 975.75C118.49 971.59 118.53 967.43 118.72 963.27C118.90 959.11 119.08 954.95 119.48 950.80C119.87 946.64 120.42 942.25 121.09 938.33C121.69 934.79 122.33 931.63 123.21 928.31C124.10 924.95 125.19 921.60 126.43 918.29C127.70 914.92 129.15 911.57 130.76 908.28C132.39 904.92 134.18 901.51 136.18 898.36C138.15 895.26 140.27 892.25 142.63 889.52C144.94 886.83 147.55 884.19 150.17 882.06C152.60 880.08 155.22 878.21 157.72 877.05C159.88 876.05 162.00 875.28 164.16 875.18C166.32 875.09 168.66 875.71 170.69 876.46C172.69 877.19 174.47 878.46 176.29 879.60C178.12 880.75 179.93 881.81 181.63 883.33C183.54 885.04 185.33 887.25 187.06 889.52C188.94 891.99 190.69 894.73 192.40 897.67C194.29 900.93 196.21 904.64 197.83 908.28C199.46 911.94 200.83 915.69 202.15 919.57C203.52 923.60 204.80 927.87 205.88 932.04C206.95 936.18 207.87 940.34 208.60 944.52C209.31 948.66 209.80 952.82 210.21 956.99C210.62 961.14 210.87 965.29 211.05 969.46C211.24 973.64 211.22 977.84 211.31 982.03L211.39 996.40L118.38 996.90" fill="none" stroke="#000" stroke-width="1.1" stroke-linejoin="round"/>
<path d="M378.50 997.00L378.50 976.28C378.61 972.14 378.65 968.01 378.84 963.87C379.02 959.74 379.21 955.60 379.60 951.47C380.00 947.32 380.55 942.96 381.22 939.06C381.83 935.55 382.47 932.40 383.35 929.10C384.25 925.75 385.34 922.43 386.59 919.13C387.87 915.78 389.33 912.45 390.94 909.17C392.59 905.84 394.39 902.44 396.40 899.31C398.37 896.22 400.51 893.23 402.88 890.51C405.21 887.83 407.83 885.21 410.47 883.09C412.90 881.13 415.54 879.26 418.05 878.11C420.22 877.11 422.35 876.35 424.53 876.25C426.70 876.16 429.05 876.78 431.10 877.52C433.11 878.25 434.90 879.51 436.72 880.65C438.56 881.79 440.38 882.84 442.09 884.36C444.01 886.06 445.81 888.25 447.55 890.51C449.44 892.97 451.20 895.69 452.92 898.62C454.82 901.86 456.75 905.55 458.38 909.17C460.02 912.81 461.40 916.54 462.73 920.40C464.10 924.41 465.39 928.65 466.48 932.81C467.55 936.92 468.48 941.06 469.21 945.22C469.93 949.33 470.41 953.48 470.82 957.62C471.24 961.75 471.49 965.88 471.68 970.03C471.86 974.18 471.85 978.36 471.93 982.53L472.02 996.90L378.50 997.00" fill="none" stroke="#000" stroke-width="1.1" stroke-linejoin="round"/>
<path d="M634.41 997.00L634.41 976.27C634.53 972.10 634.57 967.92 634.76 963.75C634.94 959.58 635.13 955.41 635.53 951.24C635.93 947.06 636.48 942.66 637.16 938.73C637.76 935.18 638.41 932.01 639.30 928.68C640.20 925.31 641.30 921.95 642.56 918.63C643.84 915.25 645.30 911.89 646.93 908.58C648.58 905.22 650.40 901.79 652.41 898.63C654.40 895.52 656.55 892.51 658.93 889.76C661.27 887.06 663.91 884.42 666.56 882.28C669.01 880.30 671.65 878.42 674.19 877.25C676.37 876.25 678.51 875.48 680.70 875.38C682.88 875.28 685.24 875.91 687.30 876.66C689.32 877.40 691.12 878.67 692.96 879.81C694.81 880.97 696.64 882.03 698.36 883.56C700.29 885.27 702.10 887.49 703.84 889.76C705.74 892.24 707.51 894.99 709.24 897.94C711.16 901.21 713.09 904.93 714.73 908.58C716.38 912.26 717.76 916.02 719.10 919.91C720.49 923.95 721.78 928.23 722.87 932.42C723.95 936.57 724.88 940.75 725.61 944.94C726.34 949.09 726.83 953.27 727.24 957.45C727.66 961.61 727.91 965.78 728.10 969.96C728.29 974.16 728.27 978.37 728.36 982.57L728.44 996.80L634.41 997.00" fill="none" stroke="#000" stroke-width="1.1" stroke-linejoin="round"/>
<path d="M112.40 537.70L112.60 516.00C113.00 509.00 113.13 501.28 113.80 495.00C114.35 489.85 114.92 485.44 116.00 481.00C117.02 476.80 118.45 472.84 120.00 469.00C121.50 465.28 123.24 461.89 125.10 458.30C127.06 454.53 129.12 450.44 131.50 446.90C133.80 443.49 136.26 440.10 139.10 437.40C141.79 434.84 144.81 432.70 148.00 431.00C151.18 429.30 154.76 427.98 158.20 427.20C161.52 426.45 165.01 426.18 168.30 426.30C171.47 426.41 174.70 426.97 177.60 427.80C180.31 428.58 182.72 429.68 185.20 431.00C187.82 432.39 190.42 434.07 192.90 436.00C195.53 438.04 198.09 440.32 200.50 443.00C203.18 445.97 205.74 449.75 208.10 453.20C210.40 456.55 212.56 459.96 214.50 463.40C216.38 466.73 218.07 470.22 219.60 473.50C221.01 476.54 222.24 479.41 223.40 482.40C224.54 485.35 225.76 488.42 226.50 491.30C227.17 493.90 227.52 496.40 227.80 498.90C228.07 501.30 228.07 503.63 228.20 506.00L228.20 537.40" fill="none" stroke="#000" stroke-width="1.05" stroke-dasharray="1.0 1.5" stroke-linejoin="round"/>
<path d="M129.20 537.90L129.20 512.00C129.43 505.57 129.47 498.75 129.90 492.70C130.28 487.30 130.77 482.25 131.50 477.40C132.17 472.95 132.99 468.73 134.00 464.70C134.94 460.95 136.01 457.15 137.30 454.00C138.39 451.34 139.73 449.41 141.00 446.90C142.42 444.11 143.78 440.80 145.40 438.00C146.96 435.31 148.58 432.74 150.50 430.40C152.41 428.07 154.53 425.76 156.90 424.00C159.21 422.28 161.79 420.85 164.50 419.90C167.28 418.93 170.53 418.44 173.40 418.30C176.05 418.17 178.57 418.38 181.10 418.90C183.68 419.43 186.22 420.37 188.70 421.50C191.29 422.68 194.18 424.48 196.30 425.90C197.95 427.00 198.99 427.63 200.50 429.10C202.79 431.33 205.74 435.38 208.10 438.60C210.39 441.72 212.58 444.81 214.50 448.10C216.41 451.38 218.10 454.86 219.60 458.30C221.06 461.66 222.29 464.88 223.40 468.50C224.62 472.47 225.69 477.06 226.50 481.20C227.26 485.08 227.83 488.69 228.20 492.60C228.59 496.71 228.53 501.07 228.70 505.30L228.80 537.40" fill="none" stroke="#000" stroke-width="1.4" stroke-dasharray="3.2 1.6" stroke-linejoin="round"/>
<path d="M131.50 537.90L131.50 512.00C131.70 505.57 131.76 498.88 132.10 492.70C132.41 486.98 132.82 481.34 133.40 476.20C133.92 471.65 134.51 467.40 135.30 463.40C136.01 459.82 136.72 456.23 137.80 453.30C138.70 450.87 139.85 449.21 141.00 446.90C142.35 444.18 143.78 440.80 145.40 438.00C146.96 435.31 148.58 432.74 150.50 430.40C152.41 428.07 154.53 425.76 156.90 424.00C159.21 422.28 161.79 420.85 164.50 419.90C167.28 418.93 170.53 418.44 173.40 418.30C176.05 418.17 178.57 418.38 181.10 418.90C183.68 419.43 186.22 420.37 188.70 421.50C191.29 422.68 194.18 424.48 196.30 425.90C197.95 427.00 198.99 427.63 200.50 429.10C202.79 431.33 205.74 435.38 208.10 438.60C210.39 441.72 212.58 444.81 214.50 448.10C216.41 451.38 218.10 454.86 219.60 458.30C221.06 461.66 222.29 464.88 223.40 468.50C224.62 472.47 225.69 477.06 226.50 481.20C227.26 485.08 227.83 488.69 228.20 492.60C228.59 496.71 228.53 501.07 228.70 505.30L228.80 537.40" fill="none" stroke="#000" stroke-width="1.2" stroke-dasharray="7 0.8" stroke-linejoin="round"/>
<path d="M409.90 537.60L409.90 520.80C410.20 513.47 410.33 505.93 410.80 498.80C411.25 492.02 411.75 485.58 412.60 479.00C413.45 472.38 414.57 465.58 415.90 459.20C417.16 453.13 418.65 446.97 420.30 441.60C421.73 436.93 423.11 433.11 425.00 428.70C427.10 423.81 429.57 417.44 432.50 413.60C434.78 410.61 437.38 408.16 440.10 406.80C442.46 405.62 445.12 405.18 447.60 405.30C450.12 405.43 452.75 406.20 455.10 407.60C457.84 409.24 460.34 412.14 462.70 415.10C465.43 418.52 468.00 422.85 470.20 427.20C472.54 431.84 474.47 437.02 476.20 442.20C477.99 447.54 479.31 453.25 480.70 458.80C482.08 464.32 483.49 469.99 484.50 475.40C485.46 480.51 486.23 485.42 486.70 490.40C487.16 495.29 487.10 500.13 487.30 505.00L487.50 536.80" fill="none" stroke="#000" stroke-width="1.05" stroke-dasharray="1.0 1.5" stroke-linejoin="round"/>
<path d="M437.80 536.80C437.97 528.87 438.04 520.83 438.30 513.00C438.55 505.37 438.80 497.93 439.30 490.40C439.80 482.86 440.51 475.05 441.30 467.80C442.03 461.05 442.84 454.53 443.80 448.30C444.69 442.53 445.64 437.08 446.80 431.70C447.92 426.53 449.18 421.47 450.60 416.60C451.96 411.95 453.33 406.74 455.10 403.10C456.44 400.34 457.93 397.65 459.60 396.30C460.78 395.34 462.16 394.71 463.40 394.80C464.69 394.90 465.99 395.91 467.20 397.00C468.79 398.43 470.35 400.61 471.70 403.10C473.45 406.33 474.77 410.84 476.20 415.10C477.79 419.82 479.38 424.80 480.70 430.20C482.19 436.27 483.50 443.26 484.50 449.80C485.49 456.29 486.07 462.67 486.70 469.30C487.35 476.19 487.92 483.24 488.30 490.40C488.69 497.80 488.77 505.47 489.00 513.00L489.30 536.80" fill="none" stroke="#000" stroke-width="1.4" stroke-dasharray="3.2 1.6" stroke-linejoin="round"/>
<path d="M441.30 536.80C441.40 528.87 441.43 520.83 441.60 513.00C441.77 505.37 441.92 497.80 442.30 490.40C442.67 483.24 443.15 476.19 443.80 469.30C444.43 462.66 445.17 456.02 446.10 449.80C446.96 444.03 447.94 438.58 449.10 433.20C450.22 428.03 451.62 422.99 452.90 418.10C454.12 413.47 455.00 408.37 456.60 404.60C457.87 401.61 459.45 398.46 461.10 397.00C462.17 396.05 463.38 395.41 464.50 395.50C465.69 395.60 466.88 396.70 468.00 397.80C469.49 399.27 470.92 401.50 472.20 404.00C473.87 407.26 475.20 411.75 476.60 416.00C478.15 420.70 479.69 425.64 481.00 431.00C482.47 437.04 483.80 443.98 484.80 450.50C485.80 456.98 486.37 463.37 487.00 470.00C487.65 476.86 488.22 483.91 488.60 491.00C488.99 498.24 489.07 505.67 489.30 513.00L489.60 536.80" fill="none" stroke="#000" stroke-width="1.2" stroke-dasharray="4 3" stroke-linejoin="round"/>
<path d="M700.50 537.90L701.00 515.00C701.43 505.20 701.65 494.68 702.30 485.60C702.87 477.73 703.59 470.92 704.50 463.60C705.42 456.26 706.52 448.92 707.80 441.60C709.09 434.25 710.44 426.48 712.20 419.60C713.79 413.36 715.36 406.30 717.70 402.00C719.30 399.07 721.39 396.12 723.20 395.40C724.34 394.94 725.52 394.97 726.60 395.80C729.02 397.65 731.12 406.43 733.00 411.80C734.84 417.07 736.46 422.36 737.80 427.70C739.13 432.99 740.07 438.36 741.00 443.70C741.93 449.02 742.75 454.11 743.40 459.70C744.11 465.80 744.61 472.14 745.00 478.90C745.44 486.45 745.53 494.90 745.80 502.90L746.10 537.20" fill="none" stroke="#000" stroke-width="1.05" stroke-dasharray="1.0 1.5" stroke-linejoin="round"/>
<path d="M744.20 537.20L744.20 470.90C744.47 460.23 744.73 449.56 745.00 438.90C745.27 428.26 745.41 416.88 745.80 407.00C746.14 398.43 746.36 383.05 747.10 383.00C747.53 382.97 748.31 387.42 748.70 391.00C749.47 398.09 749.13 411.26 749.30 423.00C749.51 437.36 749.63 454.93 749.80 470.90L750.10 537.20" fill="none" stroke="#000" stroke-width="1.4" stroke-dasharray="3.2 1.6" stroke-linejoin="round"/>
<path d="M744.80 537.20L744.80 470.90C745.03 460.23 745.27 449.56 745.50 438.90C745.73 428.26 745.86 416.76 746.20 407.00C746.49 398.71 746.77 384.02 747.30 384.00C747.61 383.99 748.12 388.45 748.40 392.00C748.94 398.95 748.83 411.55 749.00 423.00C749.21 437.24 749.33 454.93 749.50 470.90L749.70 537.20" fill="none" stroke="#000" stroke-width="1.2" stroke-dasharray="4 3" stroke-linejoin="round"/>
<path d="M146.40 767.60C146.73 762.80 146.98 758.09 147.40 753.20C147.84 748.10 148.48 742.79 149.00 737.60C149.52 732.43 149.90 727.26 150.50 722.10C151.10 716.93 151.82 711.76 152.60 706.60C153.38 701.43 154.21 696.07 155.20 691.10C156.13 686.43 157.22 681.90 158.30 677.60C159.30 673.63 160.20 669.52 161.40 666.20C162.39 663.48 163.41 661.42 164.70 659.00C166.11 656.36 167.84 653.58 169.60 651.00C171.37 648.41 173.13 645.63 175.30 643.50C177.38 641.46 179.96 639.16 182.30 638.40C184.20 637.78 186.14 638.06 188.00 638.40C189.91 638.75 191.84 639.37 193.60 640.50C195.64 641.82 197.44 643.85 199.30 646.20C201.69 649.22 204.24 653.43 206.30 657.50C208.51 661.85 210.37 666.74 212.00 671.60C213.68 676.60 214.92 681.80 216.20 687.10C217.53 692.62 218.76 698.21 219.80 704.10C220.91 710.41 221.79 717.10 222.60 723.80C223.44 730.73 224.00 737.93 224.70 745.00L225.40 767.40" fill="none" stroke="#000" stroke-width="1.05" stroke-dasharray="1.0 1.5" stroke-linejoin="round"/>
<path d="M155.20 767.40C155.40 762.27 155.51 757.01 155.80 752.00C156.08 747.22 156.47 742.68 156.90 738.00C157.33 733.28 157.92 728.53 158.40 723.80C158.88 719.09 159.22 714.39 159.80 709.70C160.38 704.99 161.09 700.29 161.90 695.60C162.72 690.89 163.74 686.07 164.70 681.50C165.61 677.15 166.40 672.89 167.50 668.80C168.55 664.90 169.76 661.11 171.10 657.50C172.37 654.06 173.64 650.70 175.30 647.60C176.92 644.58 178.81 641.30 180.90 639.10C182.64 637.26 184.68 635.78 186.60 634.90C188.22 634.16 189.87 633.70 191.50 633.80C193.17 633.90 194.91 634.53 196.50 635.60C198.50 636.95 200.34 639.46 202.10 641.90C204.15 644.74 206.16 648.32 207.80 651.80C209.48 655.38 210.69 659.00 212.00 663.10C213.52 667.83 214.92 673.30 216.20 678.60C217.53 684.12 218.73 689.93 219.80 695.60C220.86 701.23 221.79 706.74 222.60 712.50C223.44 718.49 224.17 724.77 224.70 730.90C225.23 737.00 225.43 743.10 225.80 749.20L226.10 766.90" fill="none" stroke="#000" stroke-width="1.4" stroke-dasharray="3.2 1.6" stroke-linejoin="round"/>
<path d="M155.90 767.40C156.07 762.27 156.12 757.01 156.40 752.00C156.67 747.22 157.09 742.68 157.50 738.00C157.92 733.28 158.43 728.52 158.90 723.80C159.37 719.09 159.73 714.39 160.30 709.70C160.87 704.99 161.52 700.29 162.30 695.60C163.08 690.89 164.11 686.08 165.00 681.50C165.84 677.15 166.45 672.88 167.50 668.80C168.50 664.89 169.76 661.11 171.10 657.50C172.37 654.06 173.64 650.70 175.30 647.60C176.92 644.58 178.81 641.30 180.90 639.10C182.64 637.26 184.68 635.78 186.60 634.90C188.22 634.16 189.87 633.70 191.50 633.80C193.17 633.90 194.91 634.53 196.50 635.60C198.50 636.95 200.34 639.46 202.10 641.90C204.15 644.74 206.16 648.32 207.80 651.80C209.48 655.38 210.69 659.00 212.00 663.10C213.52 667.83 214.92 673.30 216.20 678.60C217.53 684.12 218.73 689.93 219.80 695.60C220.86 701.23 221.79 706.74 222.60 712.50C223.44 718.49 224.17 724.77 224.70 730.90C225.23 737.00 225.43 743.10 225.80 749.20L226.30 766.90" fill="none" stroke="#000" stroke-width="1.2" stroke-dasharray="4 3" stroke-linejoin="round"/>
<path d="M440.40 765.50C440.50 760.27 440.58 755.02 440.70 749.80C440.82 744.59 440.90 739.39 441.10 734.20C441.30 729.02 441.55 723.86 441.90 718.70C442.25 713.53 442.73 708.37 443.20 703.20C443.67 698.01 444.18 692.79 444.70 687.60C445.22 682.42 445.73 677.26 446.30 672.10C446.87 666.93 447.38 661.63 448.10 656.60C448.79 651.81 449.51 646.95 450.50 642.60C451.38 638.71 452.28 634.85 453.60 631.70C454.70 629.06 455.92 626.54 457.50 624.80C458.83 623.34 460.56 621.98 462.10 621.60C463.39 621.28 464.78 621.55 466.00 622.10C467.40 622.73 468.81 623.97 469.90 625.50C471.28 627.45 472.08 630.21 473.00 633.30C474.26 637.54 475.22 643.37 476.10 648.80C477.06 654.72 477.76 661.15 478.40 667.50C479.07 674.07 479.56 680.65 480.00 687.60C480.47 695.08 480.80 703.13 481.10 710.90C481.40 718.67 481.57 726.43 481.80 734.20L482.30 765.50" fill="none" stroke="#000" stroke-width="1.05" stroke-dasharray="1.0 1.5" stroke-linejoin="round"/>
<path d="M455.10 766.00C455.10 760.60 455.01 755.15 455.10 749.80C455.18 744.55 455.42 739.39 455.60 734.20C455.78 729.02 455.95 723.87 456.20 718.70C456.45 713.53 456.82 708.38 457.10 703.20C457.38 698.01 457.58 692.79 457.90 687.60C458.22 682.42 458.55 677.26 459.00 672.10C459.45 666.93 460.08 661.77 460.60 656.60C461.12 651.43 461.42 645.98 462.10 641.10C462.72 636.70 463.50 632.24 464.40 628.60C465.12 625.70 465.65 622.80 466.80 620.90C467.65 619.50 468.87 617.80 469.90 617.80C470.93 617.80 472.17 619.50 473.00 620.90C474.13 622.80 474.68 625.70 475.30 628.60C476.07 632.24 476.41 636.71 476.90 641.10C477.45 645.99 477.91 651.20 478.40 656.60C478.94 662.52 479.62 668.87 480.00 675.20C480.40 681.79 480.46 688.43 480.70 695.40C480.96 702.89 481.28 710.93 481.50 718.70C481.72 726.47 481.83 734.23 482.00 742.00L482.30 766.00" fill="none" stroke="#000" stroke-width="1.4" stroke-dasharray="3.2 1.6" stroke-linejoin="round"/>
<path d="M456.60 766.00C456.60 760.60 456.51 755.15 456.60 749.80C456.68 744.55 456.92 739.39 457.10 734.20C457.28 729.02 457.47 723.87 457.70 718.70C457.93 713.53 458.23 708.37 458.50 703.20C458.77 698.01 459.00 692.79 459.30 687.60C459.60 682.42 459.92 677.26 460.30 672.10C460.68 666.93 461.30 661.77 461.60 656.60C461.90 651.44 461.58 645.97 462.10 641.10C462.57 636.69 463.50 632.24 464.40 628.60C465.12 625.70 465.65 622.80 466.80 620.90C467.65 619.50 468.87 617.80 469.90 617.80C470.93 617.80 472.17 619.50 473.00 620.90C474.13 622.80 474.68 625.70 475.30 628.60C476.07 632.24 476.41 636.71 476.90 641.10C477.45 645.99 477.91 651.20 478.40 656.60C478.94 662.52 479.62 668.87 480.00 675.20C480.40 681.79 480.46 688.43 480.70 695.40C480.96 702.89 481.28 710.93 481.50 718.70C481.72 726.47 481.83 734.23 482.00 742.00L482.60 766.00" fill="none" stroke="#000" stroke-width="1.2" stroke-dasharray="4 3" stroke-linejoin="round"/>
<path d="M717.90 768.40C718.00 759.63 718.08 750.60 718.20 742.10C718.31 734.10 718.40 726.57 718.60 718.80C718.80 711.03 719.05 703.26 719.40 695.50C719.75 687.73 720.20 679.54 720.70 672.20C721.15 665.62 721.62 659.59 722.20 653.50C722.76 647.67 723.33 641.63 724.10 636.40C724.76 631.92 725.27 627.36 726.40 624.00C727.24 621.51 728.35 618.11 729.50 617.80C730.22 617.60 731.13 618.48 731.80 619.30C732.84 620.58 733.54 622.92 734.20 625.50C735.21 629.48 735.64 635.37 736.20 641.10C736.89 648.08 737.37 656.63 737.80 664.40C738.23 672.16 738.51 679.37 738.80 687.70C739.13 697.32 739.33 708.43 739.60 718.80L740.10 768.40" fill="none" stroke="#000" stroke-width="1.05" stroke-dasharray="1.0 1.5" stroke-linejoin="round"/>
<path d="M735.90 768.40L735.90 687.70C736.10 672.13 735.88 653.12 736.50 641.00C736.90 633.26 737.56 627.07 738.20 622.00C738.63 618.59 739.24 613.48 739.60 613.50C740.02 613.52 740.19 619.94 740.40 625.50C740.87 638.15 740.73 666.97 740.90 687.70L741.00 768.40" fill="none" stroke="#000" stroke-width="1.4" stroke-dasharray="3.2 1.6" stroke-linejoin="round"/>
<path d="M736.80 768.40L736.80 687.70C737.00 672.13 736.91 652.71 737.40 641.00C737.69 633.93 738.19 628.77 738.60 624.00C738.90 620.52 739.26 614.99 739.50 615.00C739.78 615.01 739.94 621.46 740.10 627.00C740.45 639.45 740.37 667.47 740.50 687.70L740.60 768.40" fill="none" stroke="#000" stroke-width="1.2" stroke-dasharray="4 3" stroke-linejoin="round"/>
<path d="M152.00 996.00C152.13 989.70 152.15 983.23 152.40 977.10C152.63 971.28 153.00 965.76 153.40 960.10C153.80 954.46 154.25 948.84 154.80 943.20C155.35 937.54 155.92 931.70 156.70 926.20C157.44 920.98 158.31 915.85 159.30 911.00C160.22 906.48 161.33 902.24 162.40 898.00C163.43 893.91 164.36 889.85 165.60 886.00C166.78 882.33 168.03 878.68 169.60 875.40C171.06 872.34 172.68 869.22 174.60 866.90C176.27 864.88 178.15 863.23 180.20 862.00C182.16 860.83 184.51 859.87 186.60 859.60C188.50 859.36 190.45 859.40 192.20 860.20C194.26 861.14 196.18 863.44 197.90 865.50C199.78 867.75 201.30 870.21 202.90 873.30C204.98 877.33 207.12 882.75 208.80 887.90C210.60 893.41 212.01 899.30 213.20 905.40C214.48 911.93 215.27 918.84 216.10 925.90C216.99 933.41 217.77 941.30 218.30 949.20C218.85 957.33 218.97 965.73 219.30 974.00L219.70 996.00" fill="none" stroke="#000" stroke-width="1.05" stroke-dasharray="1.0 1.5" stroke-linejoin="round"/>
<path d="M169.60 995.50C169.70 989.37 169.69 983.11 169.90 977.10C170.10 971.32 170.42 965.76 170.80 960.10C171.18 954.46 171.68 948.84 172.20 943.20C172.72 937.54 173.25 931.73 173.90 926.20C174.52 920.91 175.23 915.74 176.00 910.70C176.74 905.88 177.53 901.03 178.40 896.60C179.18 892.61 180.00 889.06 180.90 885.30C181.80 881.53 182.70 877.62 183.80 874.00C184.85 870.57 185.87 866.95 187.30 864.10C188.51 861.68 189.86 859.50 191.50 857.80C192.98 856.27 195.05 854.60 196.50 854.20C197.42 853.94 198.21 854.03 199.00 854.40C200.00 854.87 200.89 855.98 201.80 857.30C203.21 859.35 204.61 862.75 205.90 866.00C207.45 869.90 208.93 874.45 210.20 879.20C211.64 884.59 212.81 890.74 213.90 896.70C215.02 902.86 215.97 909.06 216.80 915.60C217.69 922.62 218.40 930.19 219.00 937.50C219.60 944.79 220.03 952.10 220.40 959.40C220.77 966.70 220.93 974.00 221.20 981.30L221.50 995.50L169.60 995.50" fill="none" stroke="#000" stroke-width="1.4" stroke-dasharray="3.2 1.6" stroke-linejoin="round"/>
<path d="M170.30 995.50C170.40 989.37 170.41 983.11 170.60 977.10C170.78 971.32 171.03 965.76 171.40 960.10C171.77 954.46 172.28 948.84 172.80 943.20C173.32 937.54 173.87 931.73 174.50 926.20C175.11 920.91 175.75 915.74 176.50 910.70C177.22 905.88 178.05 901.03 178.90 896.60C179.66 892.62 180.48 889.06 181.30 885.30C182.12 881.53 182.77 877.61 183.80 874.00C184.78 870.56 185.87 866.95 187.30 864.10C188.51 861.68 189.86 859.50 191.50 857.80C192.98 856.27 195.05 854.60 196.50 854.20C197.42 853.94 198.21 854.03 199.00 854.40C200.00 854.87 200.89 855.98 201.80 857.30C203.21 859.35 204.61 862.75 205.90 866.00C207.45 869.90 208.93 874.45 210.20 879.20C211.64 884.59 212.81 890.74 213.90 896.70C215.02 902.86 215.97 909.06 216.80 915.60C217.69 922.62 218.40 930.19 219.00 937.50C219.60 944.79 220.03 952.10 220.40 959.40C220.77 966.70 220.93 974.00 221.20 981.30L221.80 995.50" fill="none" stroke="#000" stroke-width="1.2" stroke-dasharray="4 3" stroke-linejoin="round"/>
<path d="M442.40 995.30L442.60 985.00C442.63 980.67 442.57 976.96 442.70 972.00C442.87 965.36 443.27 956.33 443.70 948.70C444.11 941.34 444.55 933.96 445.20 927.00C445.80 920.53 446.54 914.38 447.40 908.30C448.22 902.49 449.16 896.68 450.20 891.30C451.15 886.39 452.10 881.80 453.30 877.30C454.45 873.02 455.71 868.78 457.20 864.90C458.57 861.32 459.96 857.31 461.80 854.80C463.19 852.91 464.93 850.83 466.50 850.60C467.80 850.41 469.26 851.29 470.40 852.40C472.02 853.97 473.22 857.14 474.30 860.20C475.69 864.12 476.53 869.28 477.40 874.20C478.36 879.60 479.01 885.36 479.70 891.30C480.45 897.75 481.11 904.64 481.70 911.50C482.31 918.60 482.85 925.84 483.30 933.20C483.76 940.83 484.03 948.73 484.40 956.50L485.10 995.30L442.40 995.30" fill="none" stroke="#000" stroke-width="1.05" stroke-dasharray="1.0 1.5" stroke-linejoin="round"/>
<path d="M463.40 995.30C463.40 987.53 463.27 979.77 463.40 972.00C463.53 964.23 463.87 956.47 464.20 948.70C464.53 940.93 464.91 932.89 465.40 925.40C465.86 918.42 466.42 911.79 467.00 905.20C467.56 898.87 468.15 892.51 468.80 886.60C469.39 881.19 470.03 876.13 470.70 871.10C471.34 866.31 471.89 861.27 472.70 857.10C473.37 853.67 474.10 849.84 475.00 847.80C475.49 846.68 476.03 845.46 476.60 845.40C477.10 845.35 477.76 846.19 478.20 847.00C478.99 848.45 479.24 851.32 479.70 854.00C480.31 857.54 480.82 861.93 481.30 866.40C481.87 871.64 482.31 877.46 482.80 883.50C483.35 890.30 484.02 897.50 484.40 905.20C484.83 913.93 484.90 923.62 485.10 933.20C485.31 943.29 485.43 953.93 485.60 964.30L485.90 995.30L463.40 995.30" fill="none" stroke="#000" stroke-width="1.4" stroke-dasharray="3.2 1.6" stroke-linejoin="round"/>
<path d="M466.50 995.30C466.53 987.53 466.47 979.77 466.60 972.00C466.73 964.23 467.00 956.47 467.30 948.70C467.60 940.93 467.96 932.89 468.40 925.40C468.81 918.42 469.29 911.79 469.80 905.20C470.29 898.87 470.82 892.51 471.40 886.60C471.93 881.19 472.48 876.13 473.10 871.10C473.69 866.31 474.26 861.25 475.00 857.10C475.60 853.73 476.24 850.23 477.00 848.00C477.47 846.63 477.98 844.82 478.50 844.80C478.98 844.78 479.58 846.33 480.00 847.50C480.66 849.34 480.98 852.20 481.40 855.00C481.93 858.52 482.37 862.65 482.80 867.00C483.31 872.17 483.76 878.02 484.20 884.00C484.70 890.68 485.26 897.64 485.60 905.20C486.00 913.88 486.12 923.62 486.30 933.20C486.49 943.29 486.57 953.93 486.70 964.30L486.90 995.30L466.50 995.30" fill="none" stroke="#000" stroke-width="1.2" stroke-dasharray="4 3" stroke-linejoin="round"/>
<path d="M715.60 995.20L715.60 971.90C715.87 964.13 716.06 956.23 716.40 948.60C716.73 941.24 717.12 934.00 717.60 926.90C718.06 920.04 718.59 912.98 719.20 906.70C719.74 901.19 720.30 896.36 721.00 891.20C721.70 886.03 722.51 880.99 723.40 875.70C724.34 870.13 725.33 863.62 726.50 858.60C727.44 854.56 728.26 850.41 729.60 847.80C730.50 846.06 731.71 843.96 732.70 843.90C733.50 843.85 734.34 845.09 735.00 846.20C736.04 847.95 736.62 851.08 737.30 854.00C738.14 857.63 738.83 861.75 739.40 866.40C740.12 872.30 740.49 879.14 740.90 886.60C741.41 895.83 741.73 907.27 742.00 917.60C742.27 927.93 742.33 938.27 742.50 948.60L742.80 995.20L715.60 995.20" fill="none" stroke="#000" stroke-width="1.05" stroke-dasharray="1.0 1.5" stroke-linejoin="round"/>
<path d="M740.60 995.20L740.60 930.00C740.90 913.33 740.96 894.55 741.50 880.00C741.92 868.73 742.61 857.94 743.20 850.00C743.59 844.77 744.03 837.00 744.40 837.00C744.77 837.00 745.15 844.25 745.40 850.00C745.89 861.25 745.73 883.33 745.90 900.00L745.90 995.20L740.60 995.20" fill="none" stroke="#000" stroke-width="1.4" stroke-dasharray="3.2 1.6" stroke-linejoin="round"/>
<path d="M741.60 995.20L741.60 930.00C741.87 913.33 741.98 894.27 742.40 880.00C742.71 869.32 743.18 859.56 743.60 852.00C743.89 846.84 744.25 839.00 744.50 839.00C744.75 839.00 744.95 846.30 745.10 852.00C745.39 862.95 745.30 884.00 745.40 900.00L745.40 995.20" fill="none" stroke="#000" stroke-width="1.2" stroke-dasharray="4 3" stroke-linejoin="round"/>
</svg>
</body></html>
